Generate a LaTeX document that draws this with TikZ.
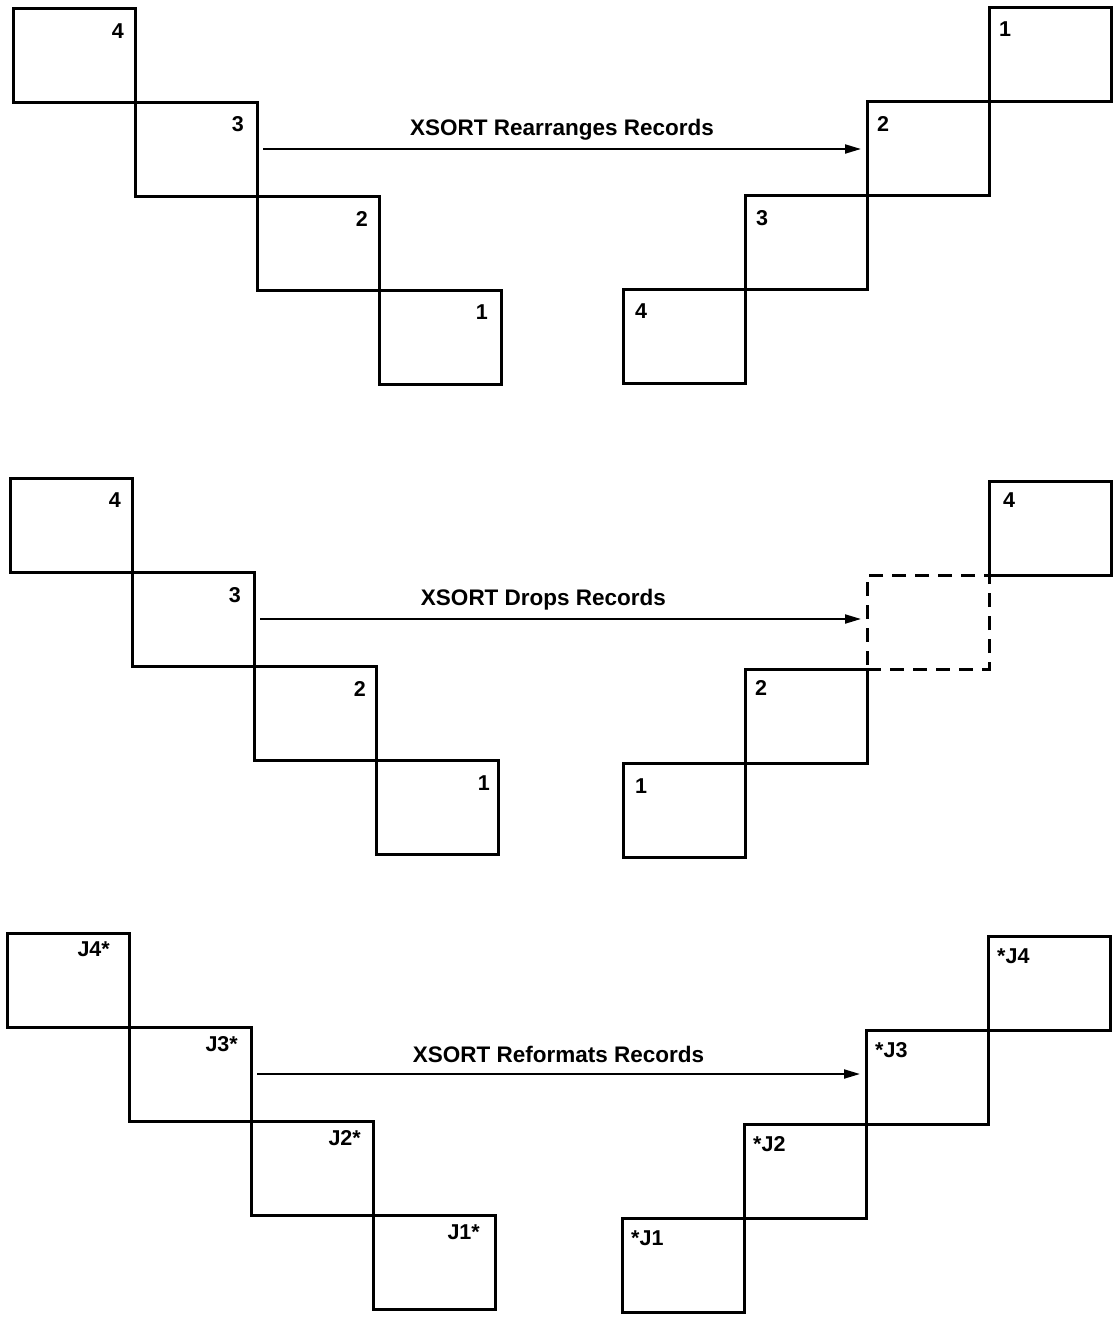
\documentclass[tikz,border=0pt]{standalone}
\usepackage{fontspec}
\setmainfont{Liberation Sans}
\usepackage{tikz}
\usetikzlibrary{arrows.meta,positioning,calc}
\tikzstyle{RecordBox} =[draw,rectangle,line width=3pt,inner sep=0pt,outer sep=0pt,minimum width=122pt,minimum height=94pt]
\tikzstyle{DroppedBox} =[RecordBox,dash pattern=on 14pt off 9pt]
\tikzstyle{KeyLeft} =[inner sep=0pt,anchor=north east,font=\fontsize{21.5}{25}\selectfont\bfseries]
\tikzstyle{KeyRight} =[inner sep=0pt,anchor=north west,font=\fontsize{21.5}{25}\selectfont\bfseries]
\tikzstyle{StepArrow} =[-{Triangle[length=16pt,width=9pt]},line width=2pt,shorten <=6pt,shorten >=6pt]
\tikzstyle{StepText} =[midway,anchor=base,yshift=14pt,inner sep=0pt,font=\fontsize{22.5}{26}\selectfont\bfseries]

\begin{document}
\begin{tikzpicture}[x=1pt,y=-1pt]
\useasboundingbox (0,0) rectangle (1116,1320);
\node[RecordBox,anchor=north west](Rearrange-in-4) at (13,8){};
\node[RecordBox,below right=0pt and 0pt of Rearrange-in-4](Rearrange-in-3){};
\node[RecordBox,below right=0pt and 0pt of Rearrange-in-3](Rearrange-in-2){};
\node[RecordBox,below right=0pt and 0pt of Rearrange-in-2](Rearrange-in-1){};
\node[KeyLeft,xshift=-11pt,yshift=-16pt](Rearrange-in-4-key) at (Rearrange-in-4.north east){4};
\node[KeyLeft,xshift=-13pt,yshift=-14pt](Rearrange-in-3-key) at (Rearrange-in-3.north east){3};
\node[KeyLeft,xshift=-11pt,yshift=-15pt](Rearrange-in-2-key) at (Rearrange-in-2.north east){2};
\node[KeyLeft,xshift=-13pt,yshift=-15pt](Rearrange-in-1-key) at (Rearrange-in-1.north east){1};
\node[RecordBox,anchor=south west](Rearrange-out-4) at (623,383){};
\node[RecordBox,above right=0pt and 0pt of Rearrange-out-4](Rearrange-out-3){};
\node[RecordBox,above right=0pt and 0pt of Rearrange-out-3](Rearrange-out-2){};
\node[RecordBox,above right=0pt and 0pt of Rearrange-out-2](Rearrange-out-1){};
\node[KeyRight,xshift=12pt,yshift=-15pt](Rearrange-out-4-key) at (Rearrange-out-4.north west){4};
\node[KeyRight,xshift=11pt,yshift=-15pt](Rearrange-out-3-key) at (Rearrange-out-3.north west){3};
\node[KeyRight,xshift=10pt,yshift=-15pt](Rearrange-out-2-key) at (Rearrange-out-2.north west){2};
\node[KeyRight,xshift=10pt,yshift=-15pt](Rearrange-out-1-key) at (Rearrange-out-1.north west){1};
\draw[StepArrow] (Rearrange-in-3) -- (Rearrange-in-3 -| Rearrange-out-2.west) node[StepText]{XSORT Rearranges Records};
\node[RecordBox,anchor=north west](Drop-in-4) at (10,478){};
\node[RecordBox,below right=0pt and 0pt of Drop-in-4](Drop-in-3){};
\node[RecordBox,below right=0pt and 0pt of Drop-in-3](Drop-in-2){};
\node[RecordBox,below right=0pt and 0pt of Drop-in-2](Drop-in-1){};
\node[KeyLeft,xshift=-11pt,yshift=-15pt](Drop-in-4-key) at (Drop-in-4.north east){4};
\node[KeyLeft,xshift=-13pt,yshift=-15pt](Drop-in-3-key) at (Drop-in-3.north east){3};
\node[KeyLeft,xshift=-10pt,yshift=-15pt](Drop-in-2-key) at (Drop-in-2.north east){2};
\node[KeyLeft,xshift=-8pt,yshift=-15pt](Drop-in-1-key) at (Drop-in-1.north east){1};
\node[RecordBox,anchor=south west](Drop-out-1) at (623,857){};
\node[RecordBox,above right=0pt and 0pt of Drop-out-1](Drop-out-2){};
\node[DroppedBox,above right=0pt and 0pt of Drop-out-2](Drop-out-3){};
\node[RecordBox,above right=0pt and 0pt of Drop-out-3](Drop-out-4){};
\node[KeyRight,xshift=12pt,yshift=-15pt](Drop-out-1-key) at (Drop-out-1.north west){1};
\node[KeyRight,xshift=10pt,yshift=-11pt](Drop-out-2-key) at (Drop-out-2.north west){2};
\node[KeyRight,xshift=14pt,yshift=-12pt](Drop-out-4-key) at (Drop-out-4.north west){4};
\draw[StepArrow] (Drop-in-3) -- (Drop-in-3 -| Drop-out-3.west) node[StepText,xshift=-17pt]{XSORT Drops Records};
\node[RecordBox,anchor=north west](Reformat-in-4) at (7,933){};
\node[RecordBox,below right=0pt and 0pt of Reformat-in-4](Reformat-in-3){};
\node[RecordBox,below right=0pt and 0pt of Reformat-in-3](Reformat-in-2){};
\node[RecordBox,below right=0pt and 0pt of Reformat-in-2](Reformat-in-1){};
\node[KeyLeft,xshift=-19pt,yshift=-8pt](Reformat-in-4-key) at (Reformat-in-4.north east){J4*};
\node[KeyLeft,xshift=-13pt,yshift=-9pt](Reformat-in-3-key) at (Reformat-in-3.north east){J3*};
\node[KeyLeft,xshift=-12pt,yshift=-9pt](Reformat-in-2-key) at (Reformat-in-2.north east){J2*};
\node[KeyLeft,xshift=-15pt,yshift=-9pt](Reformat-in-1-key) at (Reformat-in-1.north east){J1*};
\node[RecordBox,anchor=south west](Reformat-out-1) at (622,1312){};
\node[RecordBox,above right=0pt and 0pt of Reformat-out-1](Reformat-out-2){};
\node[RecordBox,above right=0pt and 0pt of Reformat-out-2](Reformat-out-3){};
\node[RecordBox,above right=0pt and 0pt of Reformat-out-3](Reformat-out-4){};
\node[KeyRight,xshift=9pt,yshift=-12pt](Reformat-out-1-key) at (Reformat-out-1.north west){*J1};
\node[KeyRight,xshift=9pt,yshift=-12pt](Reformat-out-2-key) at (Reformat-out-2.north west){*J2};
\node[KeyRight,xshift=9pt,yshift=-12pt](Reformat-out-3-key) at (Reformat-out-3.north west){*J3};
\node[KeyRight,xshift=9pt,yshift=-12pt](Reformat-out-4-key) at (Reformat-out-4.north west){*J4};
\draw[StepArrow] (Reformat-in-3) -- (Reformat-in-3 -| Reformat-out-3.west) node[StepText,yshift=-2pt]{XSORT Reformats Records};
\end{tikzpicture}
\end{document}
